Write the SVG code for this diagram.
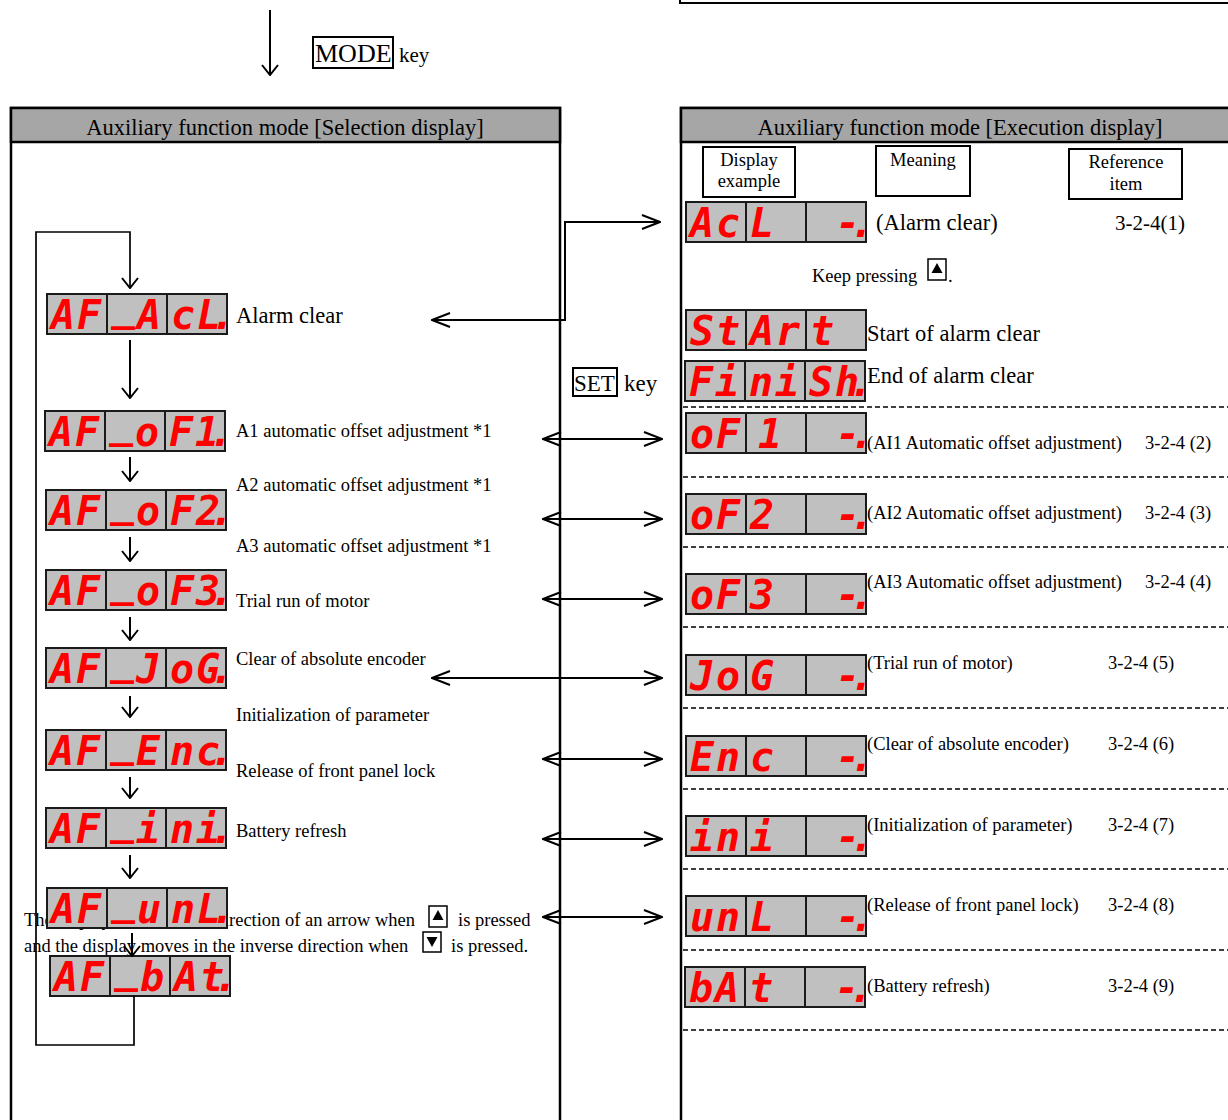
<svg xmlns="http://www.w3.org/2000/svg" width="1228" height="1120" viewBox="0 0 1228 1120">
<style>
.cell{fill:#c0c0c0;stroke:#1a1a1a;stroke-width:2}
.div{stroke:#1a1a1a;stroke-width:2}
.seg{font-family:"DejaVu Sans Mono",monospace;font-weight:bold;font-style:italic;font-size:40px;fill:#ff0000}
.t{font-family:"Liberation Serif","Times New Roman",serif;font-size:18.5px;fill:#000}
.tl{font-size:22.5px}
.c{text-anchor:middle}
.conn{stroke:#000;stroke-width:2;fill:none}
.dash{stroke:#000;stroke-width:1.5;stroke-dasharray:5 3;fill:none}
.box{fill:#fff;stroke:#000;stroke-width:2}
.key{fill:#fff;stroke:#000;stroke-width:1.5}
</style>
<defs>
<g id="lcd">
<rect class="cell" x="0" y="0" width="180" height="40"/>
<line class="div" x1="60" y1="0" x2="60" y2="40"/>
<line class="div" x1="120" y1="0" x2="120" y2="40"/>
</g>
<marker id="big" markerUnits="userSpaceOnUse" viewBox="0 0 20 16" markerWidth="20" markerHeight="16" refX="19" refY="8" orient="auto-start-reverse">
<path d="M1,1 L19,8 L1,15" fill="none" stroke="#000" stroke-width="2"/>
</marker>
<marker id="small" markerUnits="userSpaceOnUse" viewBox="0 0 12 18" markerWidth="12" markerHeight="18" refX="11" refY="9" orient="auto-start-reverse">
<path d="M1,1 L11,9 L1,17" fill="none" stroke="#000" stroke-width="2"/>
</marker>
</defs>
<rect width="1228" height="1120" fill="#fff"/>

<!-- top -->
<path d="M680,0 V3 H1228" fill="none" stroke="#000" stroke-width="2"/>
<g id="mode-key">
<rect x="313" y="37" width="80" height="31" fill="none" stroke="#000" stroke-width="2"/>
<text class="t" x="315" y="62" style="font-size:26px">MODE</text>
<text class="t" x="399" y="62" style="font-size:21px">key</text>
</g>

<!-- left panel -->
<g id="panel-selection">
<rect x="11" y="108" width="549" height="1030" fill="#fff" stroke="#000" stroke-width="2.5"/>
<rect x="11" y="108" width="549" height="34" fill="#a6a6a6" stroke="#000" stroke-width="2.5"/>
<text class="t tl c" x="285" y="135">Auxiliary function mode [Selection display]</text>
</g>

<!-- right panel -->
<g id="panel-execution">
<rect x="681" y="108" width="560" height="1030" fill="#fff" stroke="#000" stroke-width="2.5"/>
<rect x="681" y="108" width="560" height="34" fill="#a6a6a6" stroke="#000" stroke-width="2.5"/>
<text class="t tl c" x="960" y="135">Auxiliary function mode [Execution display]</text>
<rect class="box" x="703" y="147" width="92" height="50"/>
<text class="t c" x="749" y="166">Display</text>
<text class="t c" x="749" y="187">example</text>
<rect class="box" x="876" y="146" width="94" height="50"/>
<text class="t c" x="923" y="166">Meaning</text>
<rect class="box" x="1069" y="149" width="113" height="50"/>
<text class="t c" x="1126" y="168">Reference</text>
<text class="t c" x="1126" y="190">item</text>
<path class="dash" d="M683,407 H1228 M683,477 H1228 M683,547 H1228 M683,627 H1228 M683,708 H1228 M683,789 H1228 M683,869 H1228 M683,950 H1228 M683,1030 H1228"/>
</g>

<!-- set key -->
<g id="set-key">
<rect x="573" y="368" width="44" height="28" fill="none" stroke="#000" stroke-width="2"/>
<text class="t" x="574" y="391" style="font-size:23px">SET</text>
<text class="t" x="624" y="391" style="font-size:23px">key</text>
</g>

<!-- note -->
<g id="note">
<text class="t" x="24" y="926">The display moves in the direction of an arrow when</text>
<rect class="key" x="429" y="906" width="18" height="21"/>
<polygon points="438,910 432.5,920 443.5,920" fill="#000"/>
<text class="t" x="458" y="926">is pressed</text>
<text class="t" x="24" y="952">and the display moves in the inverse direction when</text>
<rect class="key" x="423" y="932" width="18" height="20"/>
<polygon points="432,947 426.5,937 437.5,937" fill="#000"/>
<text class="t" x="451" y="952">is pressed.</text>
</g>

<!-- selection nodes -->
<g id="sel-acl">
<use href="#lcd" x="47" y="294"/>
<text class="seg" transform="translate(47,294)" x="4 30" y="35">AF<tspan x="64" y="26">_</tspan><tspan x="90 124 150 164" y="35">AcL.</tspan></text>
<text class="t tl" x="236" y="323">Alarm clear</text>
</g>
<g id="sel-of1">
<use href="#lcd" x="45" y="411"/>
<text class="seg" transform="translate(45,411)" x="4 30" y="35">AF<tspan x="64" y="26">_</tspan><tspan x="90 124 150 164" y="35">oF1.</tspan></text>
<text class="t" x="236" y="437">A1 automatic offset adjustment *1</text>
</g>
<g id="sel-of2">
<use href="#lcd" x="46" y="490"/>
<text class="seg" transform="translate(46,490)" x="4 30" y="35">AF<tspan x="64" y="26">_</tspan><tspan x="90 124 150 164" y="35">oF2.</tspan></text>
<text class="t" x="236" y="491">A2 automatic offset adjustment *1</text>
</g>
<g id="sel-of3">
<use href="#lcd" x="46" y="570"/>
<text class="seg" transform="translate(46,570)" x="4 30" y="35">AF<tspan x="64" y="26">_</tspan><tspan x="90 124 150 164" y="35">oF3.</tspan></text>
<text class="t" x="236" y="552">A3 automatic offset adjustment *1</text>
</g>
<g id="sel-jog">
<use href="#lcd" x="46" y="648"/>
<text class="seg" transform="translate(46,648)" x="4 30" y="35">AF<tspan x="64" y="26">_</tspan><tspan x="90 124 150 164" y="35">JoG.</tspan></text>
<text class="t" x="236" y="607">Trial run of motor</text>
</g>
<g id="sel-enc">
<use href="#lcd" x="46" y="730"/>
<text class="seg" transform="translate(46,730)" x="4 30" y="35">AF<tspan x="64" y="26">_</tspan><tspan x="90 124 150 164" y="35">Enc.</tspan></text>
<text class="t" x="236" y="665">Clear of absolute encoder</text>
</g>
<g id="sel-ini">
<use href="#lcd" x="46" y="808"/>
<text class="seg" transform="translate(46,808)" x="4 30" y="35">AF<tspan x="64" y="26">_</tspan><tspan x="90 124 150 164" y="35">ini.</tspan></text>
<text class="t" x="236" y="721">Initialization of parameter</text>
</g>
<g id="sel-unl">
<use href="#lcd" x="47" y="888"/>
<text class="seg" transform="translate(47,888)" x="4 30" y="35">AF<tspan x="64" y="26">_</tspan><tspan x="90 124 150 164" y="35">unL.</tspan></text>
<text class="t" x="236" y="777">Release of front panel lock</text>
</g>
<g id="sel-bat">
<use href="#lcd" x="50" y="956"/>
<text class="seg" transform="translate(50,956)" x="4 30" y="35">AF<tspan x="64" y="26">_</tspan><tspan x="90 124 150 164" y="35">bAt.</tspan></text>
<text class="t" x="236" y="837">Battery refresh</text>
</g>

<!-- execution nodes -->
<g id="exe-acl">
<use href="#lcd" x="686" y="202"/>
<text class="seg" transform="translate(686,202)" x="4 30 64 150 164" y="35">AcL-.</text>
<text class="t tl" x="876" y="230">(Alarm clear)</text>
<text class="t" x="1115" y="230" style="font-size:21px">3-2-4(1)</text>
<text class="t" x="812" y="282">Keep pressing</text>
<rect class="key" x="928" y="259" width="18" height="21"/>
<polygon points="937,263 931.5,273 942.5,273" fill="#000"/>
<text class="t" x="948" y="282">.</text>
</g>
<g id="exe-start">
<use href="#lcd" x="686" y="310"/>
<text class="seg" transform="translate(686,310)" x="4 30 64 90 124" y="35">StArt</text>
<text class="t tl" x="867" y="341">Start of alarm clear</text>
</g>
<g id="exe-finish">
<use href="#lcd" x="685" y="361"/>
<text class="seg" transform="translate(685,361)" x="4 30 64 90 124 150 164" y="35">FiniSh.</text>
<text class="t tl" x="867" y="383">End of alarm clear</text>
</g>
<g id="exe-of1">
<use href="#lcd" x="686" y="413"/>
<text class="seg" transform="translate(686,413)" x="4 30 72 150 164" y="35">oF1-.</text>
<text class="t" x="867" y="449">(AI1 Automatic offset adjustment)</text>
<text class="t" x="1145" y="449">3-2-4 (2)</text>
</g>
<g id="exe-of2">
<use href="#lcd" x="686" y="494"/>
<text class="seg" transform="translate(686,494)" x="4 30 64 150 164" y="35">oF2-.</text>
<text class="t" x="867" y="519">(AI2 Automatic offset adjustment)</text>
<text class="t" x="1145" y="519">3-2-4 (3)</text>
</g>
<g id="exe-of3">
<use href="#lcd" x="686" y="574"/>
<text class="seg" transform="translate(686,574)" x="4 30 64 150 164" y="35">oF3-.</text>
<text class="t" x="867" y="588">(AI3 Automatic offset adjustment)</text>
<text class="t" x="1145" y="588">3-2-4 (4)</text>
</g>
<g id="exe-jog">
<use href="#lcd" x="686" y="655"/>
<text class="seg" transform="translate(686,655)" x="4 30 64 150 164" y="35">JoG-.</text>
<text class="t" x="867" y="669">(Trial run of motor)</text>
<text class="t" x="1108" y="669">3-2-4 (5)</text>
</g>
<g id="exe-enc">
<use href="#lcd" x="686" y="736"/>
<text class="seg" transform="translate(686,736)" x="4 30 64 150 164" y="35">Enc-.</text>
<text class="t" x="867" y="750">(Clear of absolute encoder)</text>
<text class="t" x="1108" y="750">3-2-4 (6)</text>
</g>
<g id="exe-ini">
<use href="#lcd" x="686" y="816"/>
<text class="seg" transform="translate(686,816)" x="4 30 64 150 164" y="35">ini-.</text>
<text class="t" x="867" y="831">(Initialization of parameter)</text>
<text class="t" x="1108" y="831">3-2-4 (7)</text>
</g>
<g id="exe-unl">
<use href="#lcd" x="686" y="896"/>
<text class="seg" transform="translate(686,896)" x="4 30 64 150 164" y="35">unL-.</text>
<text class="t" x="867" y="911">(Release of front panel lock)</text>
<text class="t" x="1108" y="911">3-2-4 (8)</text>
</g>
<g id="exe-bat">
<use href="#lcd" x="685" y="967"/>
<text class="seg" transform="translate(685,967)" x="4 30 64 150 164" y="35">bAt-.</text>
<text class="t" x="867" y="992">(Battery refresh)</text>
<text class="t" x="1108" y="992">3-2-4 (9)</text>
</g>

<!-- connectors -->
<g id="connectors">
<line class="conn" x1="270" y1="10" x2="270" y2="75" marker-end="url(#small)"/>
<path class="conn" style="stroke-width:1.7" d="M134,996 V1045 H36 V232 H130 V288" marker-end="url(#small)"/>
<line class="conn" x1="130" y1="340" x2="130" y2="398" marker-end="url(#small)"/>
<line class="conn" x1="130" y1="457" x2="130" y2="481" marker-end="url(#small)"/>
<line class="conn" x1="130" y1="537" x2="130" y2="561" marker-end="url(#small)"/>
<line class="conn" x1="130" y1="617" x2="130" y2="640" marker-end="url(#small)"/>
<line class="conn" x1="130" y1="696" x2="130" y2="717" marker-end="url(#small)"/>
<line class="conn" x1="130" y1="777" x2="130" y2="798" marker-end="url(#small)"/>
<line class="conn" x1="130" y1="855" x2="130" y2="878" marker-end="url(#small)"/>
<line class="conn" x1="132" y1="933" x2="132" y2="956" marker-end="url(#small)"/>
<path class="conn" d="M432,320 H565 V222 H660" marker-start="url(#big)" marker-end="url(#big)"/>
<line class="conn" x1="543" y1="439" x2="662" y2="439" marker-start="url(#big)" marker-end="url(#big)"/>
<line class="conn" x1="543" y1="519" x2="662" y2="519" marker-start="url(#big)" marker-end="url(#big)"/>
<line class="conn" x1="543" y1="599" x2="662" y2="599" marker-start="url(#big)" marker-end="url(#big)"/>
<line class="conn" x1="432" y1="678" x2="662" y2="678" marker-start="url(#big)" marker-end="url(#big)"/>
<line class="conn" x1="543" y1="759" x2="662" y2="759" marker-start="url(#big)" marker-end="url(#big)"/>
<line class="conn" x1="543" y1="839" x2="662" y2="839" marker-start="url(#big)" marker-end="url(#big)"/>
<line class="conn" x1="543" y1="917" x2="662" y2="917" marker-start="url(#big)" marker-end="url(#big)"/>
</g>
</svg>
